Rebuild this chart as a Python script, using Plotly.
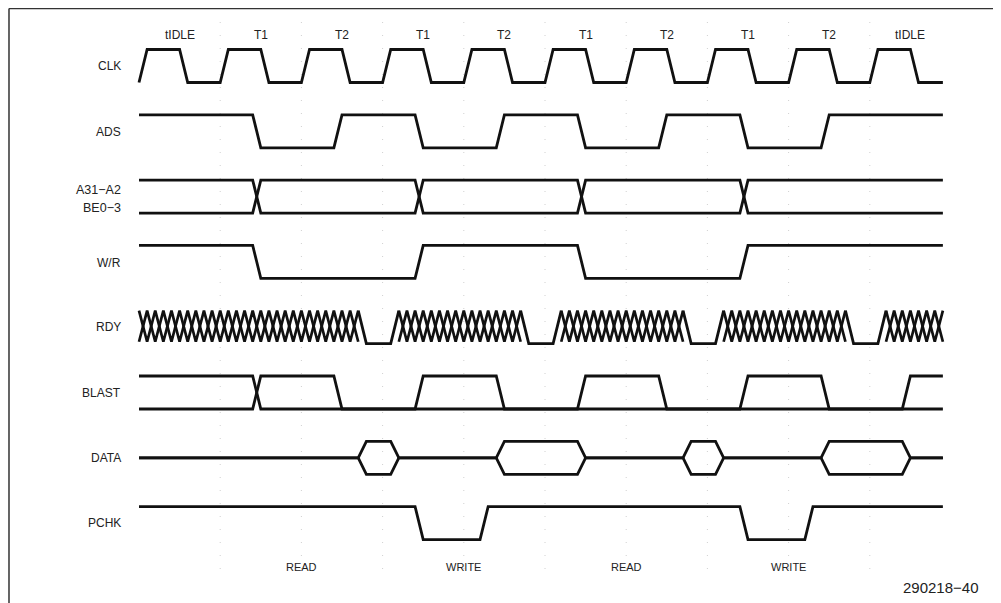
"""Bus cycle timing diagram (pipelined read/write) drawn with Plotly."""
import numpy as np
import plotly.graph_objects as go

# ---- timing data (in clock periods, t=0 at first CLK rise) ----
T_END = 9.9
SLOPE = 0.1  # edge transition time

phase_labels = ["tIDLE", "T1", "T2", "T1", "T2", "T1", "T2", "T1", "T2", "tIDLE"]
phase_t = [0.5, 1.5, 2.5, 3.5, 4.5, 5.5, 6.5, 7.5, 8.5, 9.5]

clk_edges = [0, 0.5, 1, 1.5, 2, 2.5, 3, 3.5, 4, 4.5, 5, 5.5, 6, 6.5, 7, 7.5, 8, 8.5, 9, 9.5]
ads_edges = [1.4, 2.4, 3.4, 4.4, 5.4, 6.4, 7.4, 8.4]
addr_cross = [1.4, 3.4, 5.4, 7.4]
wr_edges = [1.4, 3.4, 5.4, 7.4]
rdy_low = [(2.7, 3.2), (4.7, 5.2), (6.7, 7.2), (8.7, 9.2)]
blast_edges_a = [1.4, 2.4, 3.4, 4.4, 5.4, 6.4, 7.4, 8.4, 9.4]
blast_edges_b = [1.4]
data_valid = [(2.7, 3.2), (4.4, 5.5), (6.7, 7.2), (8.4, 9.5)]
pchk_edges = [3.4, 4.2, 7.4, 8.2]

cycle_labels = ["READ", "WRITE", "READ", "WRITE"]
cycle_t = [2.0, 4.0, 6.0, 8.0]

# ---- layout geometry (page pixels) ----
W, H = 1001, 603
OFF = 8                      # page body margin around the plot div
X0, P = 139.0, 81.2          # pixel of t=0, pixels per clock
ROW_TOP = [49.5, 114.8, 180.1, 245.4, 310.7, 376.0, 441.3, 506.6]
AMP = 33.0
LW = 2.8
INK = "#111111"


def px_t(px):
    return (px - X0) / P


def yl(row, level):
    return ROW_TOP[row] + (1 - level) * AMP


def wave(init, edges, t0=0.0, t1=T_END):
    xs, ys, lvl = [t0], [init], init
    for e in edges:
        xs += [e, e + SLOPE]
        ys += [lvl, 1 - lvl]
        lvl = 1 - lvl
    xs.append(t1)
    ys.append(lvl)
    return xs, ys


fig = go.Figure()

# faint dotted clock grid
for k in range(1, 10):
    fig.add_shape(type="line", x0=k, x1=k, y0=22, y1=578, xref="x", yref="y",
                  line=dict(color="#d0d0d0", width=1, dash="1px,12px"), layer="below")


def add_line(xs, ys, width=LW):
    fig.add_trace(go.Scatter(x=xs, y=ys, mode="lines", hoverinfo="skip",
                             line=dict(color=INK, width=width, shape="linear"),
                             showlegend=False))


def add_wave(row, init, edges):
    xs, ys = wave(init, edges)
    add_line(xs, [yl(row, v) for v in ys])


add_wave(0, 0, clk_edges)
add_wave(1, 1, ads_edges)
add_wave(2, 1, addr_cross)
add_wave(2, 0, addr_cross)
add_wave(3, 1, wr_edges)

# RDY: don't-care hatch (two opposite zigzags) with valid-low windows
HT = 0.1      # half period of the hatch zigzag
LOW_H = 0.06  # hatch bottom sits slightly above the low level
hx, hy = [], []
starts = [0.0] + [b for a, b in rdy_low]
ends = [a for a, b in rdy_low] + [T_END]
for a, b in zip(starts, ends):
    n = int(round((b - a) / HT))
    tz = list(a + np.arange(n + 1) * HT)
    up = [(1.0 if j % 2 == 0 else LOW_H) for j in range(n + 1)]
    dn = [(LOW_H if j % 2 == 0 else 1.0) for j in range(n + 1)]
    hx += tz + [None] + tz + [None]
    hy += up + [None] + dn + [None]
add_line(hx, [None if v is None else yl(4, v) for v in hy], width=2.7)

lx, ly = [], []
for a, b in rdy_low:
    lx += [a, a + SLOPE, b - SLOPE, b, None]
    ly += [1, 0, 0, 1, None]
add_line(lx, [None if v is None else yl(4, v) for v in ly])

add_wave(5, 0, blast_edges_a)
add_wave(5, 1, blast_edges_b)

# DATA: mid line with hexagons for valid data
for sgn in (1, -1):
    dx, dy = [0.0], [0.5]
    for a, b in data_valid:
        dx += [a, a + SLOPE, b - SLOPE, b]
        dy += [0.5, 0.5 + 0.5 * sgn, 0.5 + 0.5 * sgn, 0.5]
    dx.append(T_END)
    dy.append(0.5)
    add_line(dx, [yl(6, v) for v in dy])

add_wave(7, 1, pchk_edges)

# ---- text ----
FONT = "Liberation Sans, Arial, sans-serif"


def txt(x, y, s, size=12, anchor="center"):
    fig.add_annotation(x=x, y=y, xref="x", yref="y", text=s, showarrow=False,
                       xanchor=anchor, yanchor="middle",
                       font=dict(family=FONT, size=size, color="#222222"))


for s, t in zip(phase_labels, phase_t):
    txt(t, 35, s)

lab_x = px_t(123)
txt(lab_x, 66, "CLK", anchor="right")
txt(lab_x, 131.5, "ADS", anchor="right")
txt(lab_x, 190, "A31−A2", size=12.5, anchor="right")
txt(lab_x, 208, "BE0−3", size=12.5, anchor="right")
txt(lab_x, 262.5, "W/R", anchor="right")
txt(lab_x, 327, "RDY", anchor="right")
txt(lab_x, 392.5, "BLAST", anchor="right")
txt(lab_x, 457.5, "DATA", anchor="right")
txt(lab_x, 523, "PCHK", anchor="right")

for s, t in zip(cycle_labels, cycle_t):
    txt(t, 567, s, size=11)

txt(px_t(981), 587, "290218−40", size=15, anchor="right")

# frame (left and top edges sit at the edge of the plot area)
frame = dict(color="#333333", width=1.5)
fig.add_shape(type="line", xref="paper", yref="paper", x0=0.001, x1=0.001, y0=0, y1=0.999,
              line=frame)
fig.add_shape(type="line", xref="paper", yref="paper", x0=0.001, x1=1, y0=0.999, y1=0.999,
              line=frame)
fig.add_shape(type="line", xref="x", yref="paper", x0=px_t(997), x1=px_t(997), y0=0,
              y1=0.999, line=frame)

fig.update_layout(
    width=W - OFF, height=H - OFF,
    margin=dict(l=0, r=0, t=0, b=0),
    paper_bgcolor="white", plot_bgcolor="white",
    xaxis=dict(range=[px_t(OFF), px_t(W)], visible=False, fixedrange=True),
    yaxis=dict(range=[H, OFF], visible=False, fixedrange=True),
    showlegend=False,
)

fig.write_html("out.html")
